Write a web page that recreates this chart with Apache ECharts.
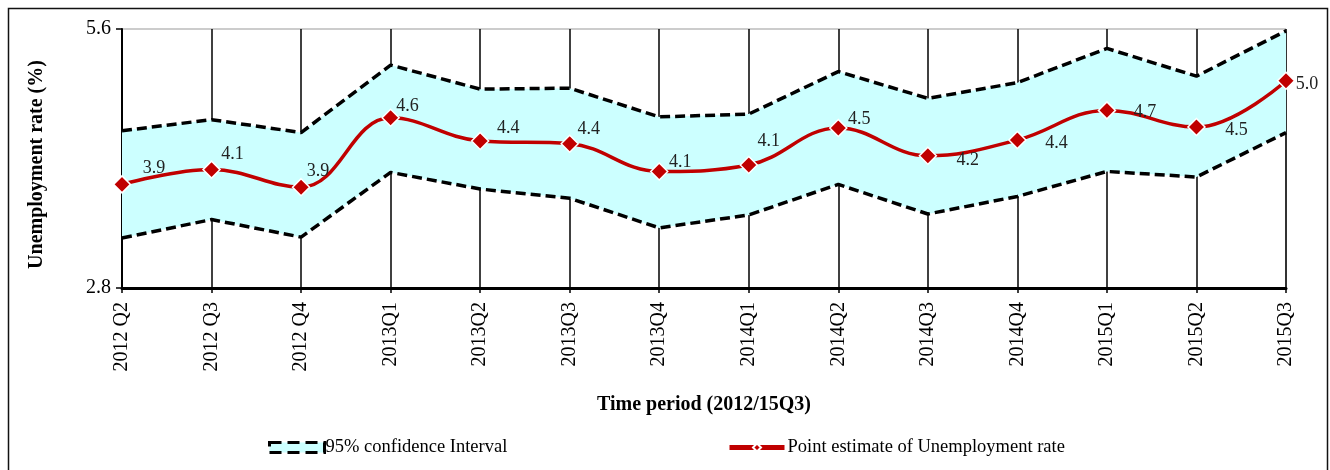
<!DOCTYPE html>
<html>
<head>
<meta charset="utf-8">
<script src="https://cdn.jsdelivr.net/npm/echarts@6/dist/echarts.min.js"></script>
<style>
  html, body { margin: 0; padding: 0; background: #fff; }
  #chart { width: 1330px; height: 470px; }
</style>
</head>
<body>
<div id="chart"></div>
<script>
// quarters on the x axis
const quarters = ["2012 Q2", "2012 Q3", "2012 Q4", "2013Q1", "2013Q2", "2013Q3", "2013Q4",
  "2014Q1", "2014Q2", "2014Q3", "2014Q4", "2015Q1", "2015Q2", "2015Q3"]
// point estimate of unemployment rate (%)
const pointEstimate = [3.92, 4.08, 3.89, 4.64, 4.39, 4.36, 4.06, 4.13, 4.53, 4.23, 4.40, 4.72, 4.54, 5.04]
// 95% confidence interval bounds
const lowerBound = [3.34, 3.54, 3.35, 4.05, 3.87, 3.77, 3.45, 3.59, 3.92, 3.60, 3.79, 4.06, 4.00, 4.48]
const upperBound = [4.50, 4.62, 4.48, 5.21, 4.95, 4.96, 4.65, 4.68, 5.14, 4.85, 5.02, 5.39, 5.09, 5.58]
// y axis ticks
const yTicks = [2.8, 5.6]

// label placement relative to each marker (dx, dy)
const labelShift = [[32, -16], [21, -15], [17, -16], [17, -12], [28, -13], [19, -14], [21, -9],
  [20, -24], [21, -9], [40, 5], [39, 3], [38, 2], [40, 3], [21, 3]]

const FONT = "'Liberation Serif', 'Times New Roman', serif"
const chart = echarts.init(document.getElementById("chart"))

const bandWidth = upperBound.map((u, i) => +(u - lowerBound[i]).toFixed(2))

const option = {
  animation: false,
  textStyle: { fontFamily: FONT, color: "#000" },
  graphic: [{
    type: "rect",
    shape: { x: 8.5, y: 8.5, width: 1319, height: 480 },
    style: { fill: null, stroke: "#111", lineWidth: 1.5 },
    silent: true,
  }],
  legend: [
    {
      left: 263, top: 433,
      itemWidth: 55, itemHeight: 10, itemGap: 0,
      icon: "rect",
      data: ["95% confidence Interval"],
      itemStyle: { color: "#ccffff", borderColor: "#000", borderWidth: 3, borderType: "dashed" },
      textStyle: { fontFamily: FONT, fontSize: 18.5, color: "#000", padding: [0, 0, 0, -4] },
    },
    {
      left: 722, top: 433,
      itemWidth: 55, itemHeight: 10,
      data: ["Point estimate of Unemployment rate"],
      lineStyle: { width: 5 },
      textStyle: { fontFamily: FONT, fontSize: 18.5, color: "#000", padding: [0, 0, 0, -2] },
    },
  ],
  grid: {
    left: 122, right: 44, top: 29, bottom: 182,
    show: true, borderColor: "#999", borderWidth: 1,
  },
  xAxis: {
    type: "category",
    data: quarters,
    boundaryGap: false,
    name: "Time period (2012/15Q3)",
    nameLocation: "middle",
    nameGap: 107,
    nameTextStyle: { fontFamily: FONT, fontSize: 20, fontWeight: "bold", color: "#000" },
    axisLine: { lineStyle: { color: "#000", width: 3 } },
    axisTick: { show: true, length: 5, lineStyle: { color: "#000", width: 1.5 } },
    axisLabel: { rotate: 90, fontFamily: FONT, fontSize: 20, color: "#000", margin: 14 },
    splitLine: { show: true, lineStyle: { color: "#000", width: 1.5 } },
  },
  yAxis: {
    type: "value",
    min: yTicks[0],
    max: yTicks[yTicks.length - 1],
    interval: yTicks[1] - yTicks[0],
    name: "Unemployment rate (%)",
    nameLocation: "middle",
    nameGap: 75,
    nameTextStyle: { fontFamily: FONT, fontSize: 20, fontWeight: "bold", color: "#000",
      padding: [0, 12, 0, 0] },
    axisLine: { show: true, lineStyle: { color: "#000", width: 2 } },
    axisTick: { show: true, length: 6, lineStyle: { color: "#000", width: 1.5 } },
    axisLabel: { fontFamily: FONT, fontSize: 20, color: "#000", margin: 11,
      formatter: (v) => v.toFixed(1) },
    splitLine: { show: false },
  },
  series: [
    {
      name: "lower",
      type: "line",
      stack: "ci",
      data: lowerBound,
      symbol: "none",
      lineStyle: { color: "#000", width: 3.5, type: [10, 5] },
      z: 3,
    },
    {
      name: "95% confidence Interval",
      type: "line",
      stack: "ci",
      data: bandWidth,
      symbol: "none",
      lineStyle: { color: "#000", width: 3.5, type: [10, 5] },
      areaStyle: { color: "#ccffff", opacity: 1 },
      itemStyle: { color: "#ccffff" },
      z: 3,
    },
    {
      name: "Point estimate of Unemployment rate",
      type: "line",
      data: pointEstimate.map((v, i) => ({
        value: v,
        label: { offset: labelShift[i] },
      })),
      smooth: 0.4,
      symbol: "diamond",
      symbolSize: 17,
      lineStyle: { color: "#c00000", width: 3.5 },
      itemStyle: { color: "#c00000", borderColor: "#fff", borderWidth: 1.5 },
      label: {
        show: true,
        position: "inside",
        fontFamily: FONT,
        fontSize: 18,
        color: "#222",
        formatter: (p) => p.value.toFixed(1),
      },
      z: 5,
    },
  ],
}

chart.setOption(option)
</script>
</body>
</html>
